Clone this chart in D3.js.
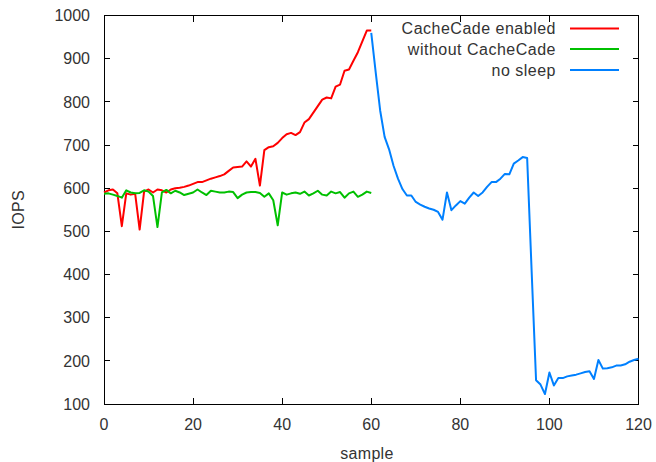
<!DOCTYPE html>
<html>
<head>
<meta charset="utf-8">
<script src="https://cdn.jsdelivr.net/npm/d3@7"></script>
<style>
  html, body { margin: 0; padding: 0; background: #fff; }
  svg text { font-family: "Liberation Sans", Arial, sans-serif; fill: #333; }
</style>
</head>
<body>
<svg id="chart" width="656" height="462"></svg>
<script>
// IOPS per sample, three runs
const cachecadeEnabled = [
  590, 595, 597, 588, 512, 588, 585, 587, 504, 592,
  597, 590, 597, 595, 590, 597, 600, 601, 603, 606,
  610, 614, 614, 618, 622, 625, 628, 632, 640, 648,
  649, 650, 662, 650, 668, 606, 688, 695, 697, 705,
  716, 725, 728, 723, 730, 752, 760, 775, 790, 805,
  810, 808, 835, 840, 872, 875, 895, 915, 940, 965,
  965
];
const withoutCachecade = [
  587, 588, 585, 582, 578, 595, 590, 588, 589, 595,
  592, 582, 510, 590, 596, 588, 594, 590, 584, 587,
  590, 597, 590, 584, 594, 592, 590, 590, 592, 591,
  577, 585, 590, 591, 591, 589, 580, 588, 572, 514,
  590, 585, 588, 590, 587, 592, 583, 588, 594, 585,
  583, 592, 588, 591, 578, 588, 592, 580, 585, 592,
  589
];
const noSleep = [
  960, 868, 780, 719, 690, 652, 622, 598, 583, 583,
  568, 562, 557, 553, 550, 545, 527, 590, 549, 560,
  570, 564, 578, 590, 582, 590, 603, 614, 614, 622,
  633, 632, 657, 664, 672, 670, 410, 155, 145, 123,
  173, 143, 160, 160, 164, 166, 168, 171, 174, 176,
  158, 202, 182, 183, 185, 189, 189, 192, 198, 202,
  205
];
const noSleepStart = 60;

const xTicks = [0, 20, 40, 60, 80, 100, 120];
const yTicks = [100, 200, 300, 400, 500, 600, 700, 800, 900, 1000];

const seriesNames = ["CacheCade enabled", "without CacheCade", "no sleep"];
const seriesColors = ["#ff0000", "#00c000", "#0080ff"];

const svg = d3.select("#chart");
const plotL = 104, plotR = 638.5, plotT = 15.5, plotB = 404;

const x = d3.scaleLinear().domain([0, 120]).range([plotL, plotR]);
const y = d3.scaleLinear().domain([100, 1000]).range([plotB, plotT]);

const tickLen = 6;
const fontSize = 16;

// frame
svg.append("rect")
  .attr("x", plotL).attr("y", plotT)
  .attr("width", plotR - plotL).attr("height", plotB - plotT)
  .attr("fill", "none").attr("stroke", "#000").attr("stroke-width", 1)
  .attr("shape-rendering", "crispEdges");

// y ticks (inward, mirrored on the right)
const ticks = svg.append("g").attr("shape-rendering", "crispEdges");
yTicks.forEach(t => {
  ticks.append("line").attr("x1", plotL).attr("x2", plotL + tickLen)
    .attr("y1", y(t)).attr("y2", y(t)).attr("stroke", "#000");
  ticks.append("line").attr("x1", plotR).attr("x2", plotR - tickLen)
    .attr("y1", y(t)).attr("y2", y(t)).attr("stroke", "#000");
  svg.append("text").attr("x", 90).attr("y", y(t))
    .attr("text-anchor", "end").attr("dy", "0.36em")
    .attr("font-size", fontSize).text(t);
});

// x ticks (inward, mirrored on top)
xTicks.forEach(t => {
  ticks.append("line").attr("x1", x(t)).attr("x2", x(t))
    .attr("y1", plotB).attr("y2", plotB - tickLen).attr("stroke", "#000");
  ticks.append("line").attr("x1", x(t)).attr("x2", x(t))
    .attr("y1", plotT).attr("y2", plotT + tickLen).attr("stroke", "#000");
  svg.append("text").attr("x", x(t)).attr("y", 424)
    .attr("text-anchor", "middle").attr("dy", "0.36em")
    .attr("font-size", fontSize).text(t);
});

// axis titles
svg.append("text").attr("x", 367).attr("y", 453)
  .attr("text-anchor", "middle").attr("dy", "0.36em")
  .attr("font-size", fontSize).attr("letter-spacing", "0.3px").text("sample");
svg.append("text")
  .attr("transform", `translate(18,${(plotT + plotB) / 2}) rotate(-90)`)
  .attr("text-anchor", "middle").attr("dy", "0.36em")
  .attr("font-size", fontSize).attr("letter-spacing", "0.3px").text("IOPS");

// series lines
const line = d3.line().x(d => x(d[0])).y(d => y(d[1]));
const seriesData = [
  cachecadeEnabled.map((v, i) => [i, v]),
  withoutCachecade.map((v, i) => [i, v]),
  noSleep.map((v, i) => [noSleepStart + i, v])
];
seriesData.forEach((d, k) => {
  svg.append("path").datum(d).attr("d", line)
    .attr("fill", "none").attr("stroke", seriesColors[k])
    .attr("stroke-width", 2).attr("stroke-linejoin", "round");
});

// key
const keyY = [28.5, 49, 70];
seriesNames.forEach((name, k) => {
  svg.append("text").attr("x", 556).attr("y", keyY[k])
    .attr("text-anchor", "end").attr("dy", "0.36em")
    .attr("font-size", fontSize).attr("letter-spacing", "0.5px").text(name);
  svg.append("line").attr("x1", 570).attr("x2", 619)
    .attr("y1", keyY[k]).attr("y2", keyY[k])
    .attr("stroke", seriesColors[k]).attr("stroke-width", 2);
});
</script>
</body>
</html>
